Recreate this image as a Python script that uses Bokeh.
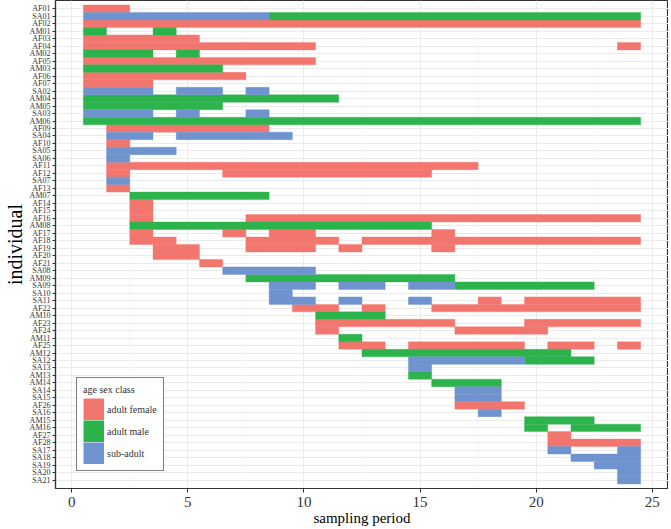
from bokeh.plotting import figure
from bokeh.models import FactorRange, Range1d, FixedTicker, Legend, LegendItem, ColumnDataSource
from bokeh.embed import file_html
from bokeh.resources import INLINE

# ---- data ----
individuals = ["AF01", "SA01", "AF02", "AM01", "AF03", "AF04", "AM02", "AF05", "AM03", "AF06",
               "AF07", "SA02", "AM04", "AM05", "SA03", "AM06", "AF09", "SA04", "AF10", "SA05",
               "SA06", "AF11", "AF12", "SA07", "AF13", "AM07", "AF14", "AF15", "AF16", "AM08",
               "AF17", "AF18", "AF19", "AF20", "AF21", "SA08", "AM09", "SA09", "SA10", "SA11",
               "AF22", "AM10", "AF23", "AF24", "AM11", "AF25", "AM12", "SA12", "SA13", "AM13",
               "AM14", "SA14", "SA15", "AF26", "SA16", "AM15", "AM16", "AF27", "AF28", "SA17",
               "SA18", "SA19", "SA20", "SA21"]

classes = ["adult female", "adult male", "sub-adult"]
class_colors = ["#F3766E", "#2CB34B", "#6E93CF"]

# runs of consecutive sampling periods: (individual, first period, last period)
female_runs = [("AF01", 1, 2), ("AF02", 1, 24), ("AF03", 1, 5), ("AF04", 1, 10), ("AF04", 24, 24),
               ("AF05", 1, 10), ("AF06", 1, 7), ("AF07", 1, 3), ("AF09", 2, 8), ("AF10", 2, 2),
               ("AF11", 2, 17), ("AF12", 2, 2), ("AF12", 7, 15), ("AF13", 2, 2), ("AF14", 3, 3),
               ("AF15", 3, 3), ("AF16", 3, 3), ("AF16", 8, 24), ("AF17", 3, 3), ("AF17", 7, 7),
               ("AF17", 9, 10), ("AF17", 16, 16), ("AF18", 3, 4), ("AF18", 8, 11), ("AF18", 13, 24),
               ("AF19", 4, 5), ("AF19", 8, 10), ("AF19", 12, 12), ("AF19", 16, 16), ("AF20", 4, 5),
               ("AF21", 6, 6), ("SA11", 18, 18), ("SA11", 20, 24), ("AF22", 10, 11), ("AF22", 13, 13),
               ("AF22", 16, 24), ("AF23", 11, 16), ("AF23", 20, 24), ("AF24", 11, 11), ("AF24", 17, 20),
               ("AF25", 12, 13), ("AF25", 15, 19), ("AF25", 21, 22), ("AF25", 24, 24), ("AF26", 17, 19),
               ("AF27", 21, 21), ("AF28", 21, 24)]

male_runs = [("SA01", 9, 24), ("AM01", 1, 1), ("AM01", 4, 4), ("AM02", 1, 3), ("AM02", 5, 5),
             ("AM03", 1, 6), ("AM04", 1, 11), ("AM05", 1, 6), ("AM06", 1, 24), ("AM07", 3, 8),
             ("AM08", 3, 15), ("AM09", 8, 16), ("SA09", 17, 22), ("AM10", 11, 13), ("AM11", 12, 12),
             ("AM12", 13, 21), ("SA12", 20, 22), ("AM13", 15, 15), ("AM14", 16, 18), ("AM15", 20, 22),
             ("AM16", 20, 20), ("AM16", 22, 24)]

subadult_runs = [("SA01", 1, 8), ("SA02", 1, 3), ("SA02", 5, 6), ("SA02", 8, 8), ("SA03", 1, 3),
                 ("SA03", 5, 5), ("SA03", 8, 8), ("SA04", 2, 3), ("SA04", 5, 9), ("SA05", 2, 4),
                 ("SA06", 2, 2), ("SA07", 2, 2), ("SA08", 7, 10), ("SA09", 9, 10), ("SA09", 12, 13),
                 ("SA09", 15, 16), ("SA10", 9, 9), ("SA11", 9, 10), ("SA11", 12, 12), ("SA11", 15, 15),
                 ("SA12", 15, 19), ("SA13", 15, 15), ("SA14", 17, 18), ("SA15", 17, 18), ("SA16", 18, 18),
                 ("SA17", 21, 21), ("SA17", 24, 24), ("SA18", 22, 24), ("SA19", 23, 24), ("SA20", 24, 24),
                 ("SA21", 24, 24)]

x_ticks = [0, 5, 10, 15, 20, 25]
x_minor = [2.5, 7.5, 12.5, 17.5, 22.5]
x_lo, x_hi = -0.7, 25.7

# ---- figure ----
SERIF = "Liberation Serif"
p = figure(frame_width=613, frame_height=488, output_backend="svg", toolbar_location=None,
           x_range=Range1d(x_lo, x_hi),
           y_range=FactorRange(factors=list(reversed(individuals)), range_padding=1.2 / 64),
           min_border_left=44, min_border_right=0, min_border_top=0, min_border_bottom=0)

p.background_fill_color = "white"
p.border_fill_color = "white"
p.outline_line_color = "#333333"
p.outline_line_width = 1.2

p.xaxis.ticker = FixedTicker(ticks=x_ticks, minor_ticks=x_minor)
p.xgrid.grid_line_color = "#EBEBEB"
p.xgrid.grid_line_width = 1.0
p.xgrid.minor_grid_line_color = "#F4F4F4"
p.xgrid.minor_grid_line_width = 0.6
p.ygrid.grid_line_color = "#EBEBEB"
p.ygrid.grid_line_width = 1.0

for ax in (p.xaxis[0], p.yaxis[0]):
    ax.axis_line_color = "#333333"
    ax.axis_line_width = 1.2
    ax.major_tick_line_color = "#333333"
    ax.major_tick_line_width = 1.0
    ax.major_tick_in = 0
    ax.minor_tick_line_color = None
    ax.major_label_text_font = SERIF
    ax.major_label_text_color = "#333333"
    ax.axis_label_text_font = SERIF
    ax.axis_label_text_font_style = "normal"
    ax.axis_label_text_color = "black"

p.xaxis.major_tick_out = 4
p.yaxis.major_tick_out = 3
p.xaxis.major_label_text_font_size = "15px"
p.yaxis.major_label_text_font_size = "8px"
p.xaxis.major_label_standoff = 4
p.yaxis.major_label_standoff = 2
p.xaxis.axis_label = "sampling period"
p.xaxis.axis_label_text_font_size = "15px"
p.xaxis.axis_label_standoff = 0
p.yaxis.axis_label = "individual"
p.yaxis.axis_label_text_font_size = "20px"
p.yaxis.axis_label_standoff = 1

legend_items = []
for runs, cls, col in zip([female_runs, male_runs, subadult_runs], classes, class_colors):
    src = ColumnDataSource(data=dict(
        y=[r[0] for r in runs],
        left=[r[1] - 0.5 for r in runs],
        right=[r[2] + 0.5 for r in runs],
    ))
    p.hbar(y="y", left="left", right="right", height=1.0, source=src,
           fill_color=col, line_color=col, line_width=0.4)
    # legend key: a thick line kept outside the visible x range, used only as a full-size swatch
    key_src = ColumnDataSource(data=dict(x=[x_lo - 50, x_lo - 49], y=[individuals[0], individuals[0]]))
    key = p.line(x="x", y="y", source=key_src, line_color=col, line_width=22)
    legend_items.append(LegendItem(label=cls, renderers=[key]))

legend = Legend(items=legend_items, location=(21, 17), title="age sex class")
legend.title_text_font = SERIF
legend.title_text_font_size = "10px"
legend.title_text_font_style = "normal"
legend.title_text_color = "#333333"
legend.title_standoff = 3
legend.label_text_font = SERIF
legend.label_text_font_size = "10px"
legend.label_text_color = "#333333"
legend.glyph_width = 21
legend.glyph_height = 22
legend.label_height = 22
legend.label_standoff = 3
legend.spacing = 0
legend.padding = 6
legend.margin = 0
legend.border_line_color = "black"
legend.border_line_width = 1.5
legend.background_fill_color = "white"
legend.background_fill_alpha = 1.0
p.add_layout(legend, "center")

open("out.html", "w").write(file_html(p, INLINE))
